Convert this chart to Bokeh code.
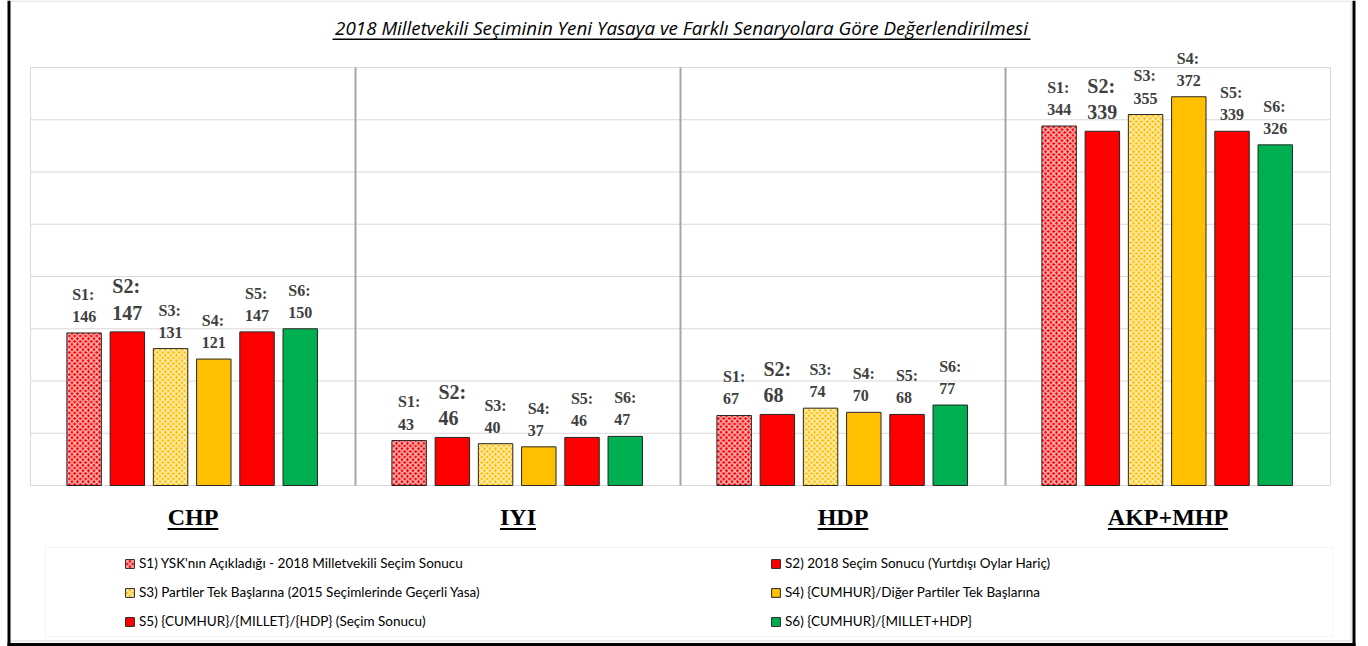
from bokeh.plotting import figure
from bokeh.models import (ColumnDataSource, Range1d, LabelSet, Label, Legend, LegendItem,
                          BoxAnnotation)
from bokeh.transform import dodge
from bokeh.embed import file_html
from bokeh.resources import INLINE

# ---------------- data ----------------
categories = ["CHP", "IYI", "HDP", "AKP+MHP"]
series_keys = ["S1", "S2", "S3", "S4", "S5", "S6"]
legend_labels = [
    "S1) YSK'nın Açıkladığı - 2018 Milletvekili Seçim Sonucu",
    "S2) 2018 Seçim Sonucu (Yurtdışı Oylar Hariç)",
    "S3) Partiler Tek Başlarına (2015 Seçimlerinde Geçerli Yasa)",
    "S4) {CUMHUR}/Diğer Partiler Tek Başlarına",
    "S5) {CUMHUR}/{MILLET}/{HDP} (Seçim Sonucu)",
    "S6) {CUMHUR}/{MILLET+HDP}",
]
s1 = [146, 43, 67, 344]
s2 = [147, 46, 68, 339]
s3 = [131, 40, 74, 355]
s4 = [121, 37, 70, 372]
s5 = [147, 46, 68, 339]
s6 = [150, 47, 77, 326]
series_values = [s1, s2, s3, s4, s5, s6]
y_ticks = [0, 50, 100, 150, 200, 250, 300, 350, 400]
title_text = "2018 Milletvekili Seçiminin Yeni Yasaya ve Farklı Senaryolara Göre Değerlendirilmesi"

# ---------------- styles / layout ----------------
colors = ["#FF0000", "#FF0000", "#FFC000", "#FFC000", "#FF0000", "#00B050"]
hatches = ["diagonal_cross", None, "diagonal_cross", None, None, None]
offsets = [-0.335, -0.202, -0.069, 0.064, 0.197, 0.33]
label_sizes = ["16px", "20px", "16px", "16px", "16px", "16px"]
label_line_heights = [1.3, 1.2, 1.3, 1.3, 1.3, 1.3]
bar_width = 0.106

W, H = 1368, 646
PLOT_LEFT, PLOT_RIGHT, PLOT_TOP, PLOT_BOTTOM = 30, 1330, 67, 485
ncat = len(categories)
px_x = (PLOT_RIGHT - PLOT_LEFT) / ncat
px_y = (PLOT_BOTTOM - PLOT_TOP) / max(y_ticks)

# Times bold advance widths (em) for underline lengths of category labels
tb = {"C": .722, "H": .778, "P": .611, "I": .389, "Y": .722, "D": .722, "A": .722,
      "K": .778, "+": .570, "M": .944}
cat_font_px = 24

p = figure(x_range=Range1d(-PLOT_LEFT / px_x, (W - PLOT_LEFT) / px_x),
           y_range=Range1d(-(H - PLOT_BOTTOM) / px_y, PLOT_BOTTOM / px_y),
           width=W, height=H, output_backend="svg", toolbar_location=None,
           x_axis_location=None, y_axis_location=None,
           min_border=0, min_border_left=0, min_border_right=0,
           min_border_top=0, min_border_bottom=0)
p.background_fill_color = "white"
p.border_fill_color = "white"
p.outline_line_color = None
p.grid.visible = False


def screen_box(left, right, top, bottom, **kw):
    return BoxAnnotation(left=left, right=right, top=H - top, bottom=H - bottom,
                         left_units="screen", right_units="screen",
                         top_units="screen", bottom_units="screen", **kw)


# horizontal gridlines
p.segment(x0=[0] * len(y_ticks), x1=[ncat] * len(y_ticks), y0=y_ticks, y1=y_ticks,
          line_color="#d9d9d9", line_width=1)
# vertical frame edges and category separators
bounds = list(range(ncat + 1))
p.segment(x0=bounds, x1=bounds, y0=[0] * len(bounds), y1=[max(y_ticks)] * len(bounds),
          line_color=["#d9d9d9"] + ["#a6a6a6"] * (ncat - 1) + ["#d9d9d9"],
          line_width=[1] + [2] * (ncat - 1) + [1])

centers = [i + 0.5 for i in range(ncat)]
items = []
for i, key in enumerate(series_keys):
    vals = series_values[i]
    src = ColumnDataSource(dict(xc=centers, val=vals,
                                txt=[f"{key}:\n{v}" for v in vals]))
    kw = dict(fill_color=colors[i], line_color="#262626", line_width=1)
    if hatches[i]:
        kw.update(hatch_pattern=hatches[i], hatch_color="white", hatch_scale=5.5,
                  hatch_weight=1.3, hatch_alpha=0.8)
    r = p.vbar(x=dodge("xc", offsets[i]), top="val", width=bar_width, source=src, **kw)
    items.append(LegendItem(label=legend_labels[i], renderers=[r]))
    p.add_layout(LabelSet(x=dodge("xc", offsets[i]), y="val", text="txt", source=src,
                          text_align="center", text_baseline="bottom", y_offset=8,
                          text_font="Liberation Serif", text_font_style="bold",
                          text_font_size=label_sizes[i], text_color="#404040",
                          text_line_height=label_line_heights[i]))

# category labels (underlined)
csrc = ColumnDataSource(dict(xc=centers, y0=[0] * ncat, name=categories,
                             ulw=[sum(tb[c] for c in n) * cat_font_px for n in categories]))
p.add_layout(LabelSet(x="xc", y="y0", text="name", source=csrc, text_align="center",
                      text_baseline="alphabetic", y_offset=-39,
                      text_font="Liberation Serif", text_font_style="bold",
                      text_font_size=f"{cat_font_px}px", text_color="black"))
p.rect(x="xc", y=-43.5 / px_y, width="ulw", height=2, width_units="screen",
       height_units="screen", source=csrc, fill_color="black", line_color=None)

# legend
legend = Legend(items=items, location=(124, H - 632), orientation="horizontal", ncols=2,
                glyph_width=11, glyph_height=11, label_standoff=4, label_width=624,
                label_height=22, spacing=7, padding=0, margin=0,
                label_text_font="Lato", label_text_font_size="13.5px",
                label_text_color="black", background_fill_alpha=0,
                border_line_alpha=0)
p.add_layout(legend, "center")

# legend frame box
p.add_layout(screen_box(45, 1332, 547, 636, fill_alpha=0, line_color="#d9d9d9",
                        line_width=1))
# outer border: thin grey box plus heavy black left / right / bottom edges
p.add_layout(screen_box(8.5, 1350.5, 0.5, 640.5, fill_alpha=0, line_color="#7f7f7f",
                        line_width=1))
p.add_layout(screen_box(7, 10, 0, 646, fill_color="black", fill_alpha=1, line_color=None))
p.add_layout(screen_box(1352, 1355, 0, 646, fill_color="black", fill_alpha=1,
                        line_color=None))
p.add_layout(screen_box(7, 1355, 642.5, 645.5, fill_color="black", fill_alpha=1,
                        line_color=None))

# title + underline
p.add_layout(Label(x=681, y=H - 27, x_units="screen", y_units="screen", text=title_text,
                   text_align="center", text_baseline="alphabetic",
                   text_font="Open Sans", text_font_style="italic",
                   text_font_size="18.8px", text_color="black"))
p.add_layout(screen_box(332, 1030, 38, 39.5, fill_color="black", fill_alpha=1,
                        line_color=None))

open("out.html", "w").write(file_html(p, INLINE))
